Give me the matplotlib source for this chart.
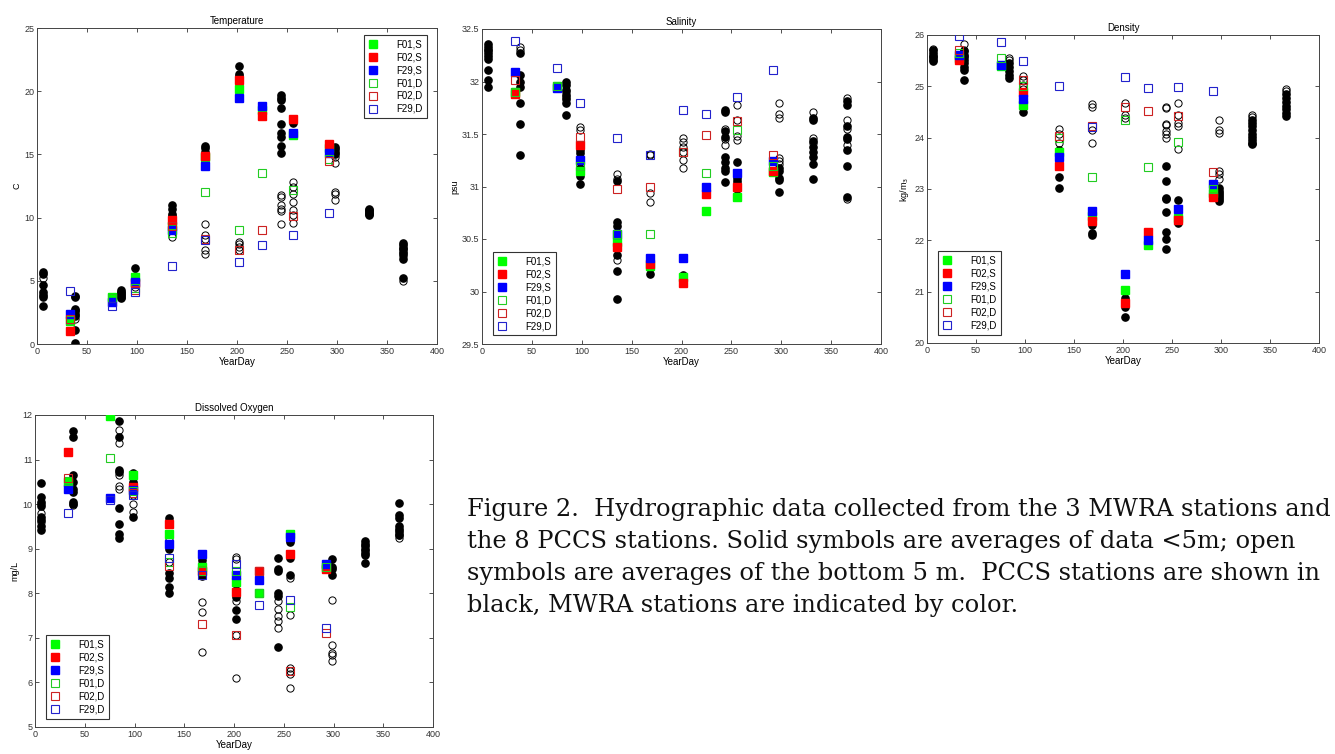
import numpy as np
import matplotlib
matplotlib.use('Agg')
import matplotlib.pyplot as plt

nan = np.nan
days_mwra = [33, 75, 98, 135, 168, 202, 225, 256, 292]
days_pccs = [6, 38, 84, 98, 135, 168, 202, 244, 256, 298, 332, 366]
series_labels = ['F01,S', 'F02,S', 'F29,S', 'F01,D', 'F02,D', 'F29,D']

# ---------------- Temperature ----------------
temp_f01s = [1.8, 3.7, 5.3, 9.3, 14.8, 20.2, 18.5, 16.5, 15.5]
temp_f02s = [1.0, nan, 4.8, 9.8, 14.9, 20.9, 18.0, 17.8, 15.8]
temp_f29s = [2.4, 3.3, 4.9, 9.0, 14.1, 19.5, 18.8, 16.7, 15.1]
temp_f01d = [1.9, 3.6, 4.4, 8.8, 12.0, 9.0, 13.5, 12.2, 14.6]
temp_f02d = [2.0, nan, 4.3, 9.3, 8.3, 7.4, 9.0, 10.1, 14.5]
temp_f29d = [4.2, 3.0, 4.1, 6.2, 8.2, 6.5, 7.8, 8.6, 10.4]
temp_pccs_s = [[5.7, 5.5, 4.7, 4.1, 3.9, 3.7, 3.0],
               [3.8, 3.7, 2.8, 2.6, 2.4, 2.2, 1.1, 0.05],
               [4.3, 4.1, 4.0, 3.9, 3.7, 3.6],
               [6.0, 5.4, 5.1],
               [11.0, 10.7, 10.3, 10.1],
               [15.7, 15.5, 15.2, 14.8, 14.4],
               [22.0, 21.4, 21.2, 20.8],
               [19.7, 19.5, 19.3, 18.7, 17.4, 16.7, 16.4, 15.7, 15.1],
               [17.5, 16.5],
               [15.6, 15.4, 15.2, 15.0],
               [10.7, 10.6, 10.5, 10.4, 10.3, 10.2],
               [8.0, 7.8, 7.6, 7.5, 7.3, 7.1, 6.7, 5.2]]
temp_pccs_d = [[5.2], [2.7, 2.0], [3.9], [4.5], [8.5, 9.3],
               [9.5, 8.6, 8.3, 7.4, 7.1], [8.1, 7.9, 7.7, 7.4],
               [11.8, 11.6, 11.0, 10.7, 10.5, 9.5],
               [12.8, 12.4, 11.9, 11.2, 10.6, 10.2, 9.6],
               [14.8, 14.3, 12.0, 11.9, 11.4], [10.4], [5.0, 7.0]]

# ---------------- Salinity ----------------
sal_f01s = [31.90, 31.96, 31.15, 30.47, 30.24, 30.14, 30.77, 30.90, 31.14]
sal_f02s = [31.88, nan, 31.40, 30.42, 30.26, 30.08, 30.93, 31.00, 31.15]
sal_f29s = [32.09, 31.94, 31.25, 30.55, 30.32, 30.32, 31.00, 31.13, 31.24]
sal_f01d = [31.90, 31.96, 31.20, 30.55, 30.55, 31.33, 31.13, 31.54, 31.20]
sal_f02d = [32.01, nan, 31.47, 30.98, 31.00, 31.33, 31.49, 31.62, 31.30]
sal_f29d = [32.39, 32.13, 31.80, 31.46, 31.30, 31.73, 31.69, 31.85, 32.11]
sal_pccs_s = [[32.36, 32.33, 32.30, 32.27, 32.24, 32.21, 32.11, 32.01, 31.95],
              [32.27, 32.06, 32.00, 31.95, 31.80, 31.60, 31.30],
              [32.00, 31.97, 31.92, 31.87, 31.83, 31.80, 31.68],
              [31.35, 31.32, 31.18, 31.10, 31.02],
              [31.05, 30.66, 30.62, 30.35, 30.20, 29.93],
              [30.22, 30.17],
              [30.16],
              [31.73, 31.71, 31.53, 31.47, 31.28, 31.23, 31.18, 31.15, 31.04],
              [31.23, 31.08, 31.05, 31.02, 31.00, 30.98],
              [31.18, 31.15, 31.08, 31.06, 30.95],
              [31.65, 31.63, 31.43, 31.38, 31.33, 31.28, 31.21, 31.07],
              [31.81, 31.78, 31.58, 31.47, 31.45, 31.35, 31.20, 30.90]]
sal_pccs_d = [[32.30], [32.33, 32.30], [31.90, 31.85], [31.57, 31.54],
              [31.12, 31.07, 30.30], [31.31, 31.30, 30.94, 30.85],
              [31.46, 31.42, 31.38, 31.33, 31.25, 31.18],
              [31.55, 31.45, 31.40],
              [31.78, 31.63, 31.48, 31.44],
              [31.80, 31.69, 31.65, 31.27, 31.24, 31.21],
              [31.71, 31.46, 31.41],
              [31.84, 31.63, 31.55, 31.40, 30.88]]

# ---------------- Density ----------------
den_f01s = [25.55, 25.40, 24.64, 23.73, 22.47, 21.03, 21.90, 22.43, 22.93]
den_f02s = [25.51, nan, 24.88, 23.44, 22.37, 20.78, 22.17, 22.39, 22.85]
den_f29s = [25.61, 25.42, 24.75, 23.63, 22.58, 21.35, 22.01, 22.62, 23.09]
den_f01d = [25.65, 25.55, 25.00, 24.00, 23.24, 24.35, 23.42, 23.92, 23.00]
den_f02d = [25.71, nan, 25.12, 24.04, 24.22, 24.59, 24.51, 24.43, 23.34]
den_f29d = [25.98, 25.87, 25.50, 25.01, 24.20, 25.19, 24.96, 24.99, 24.90]
den_pccs_s = [[25.70, 25.65, 25.60, 25.55, 25.50],
              [25.68, 25.62, 25.57, 25.52, 25.45, 25.38, 25.31, 25.12],
              [25.45, 25.38, 25.30, 25.22, 25.16],
              [24.60, 24.50],
              [23.75, 23.24, 23.02],
              [22.29, 22.15, 22.10],
              [20.88, 20.70, 20.50],
              [23.45, 23.15, 22.82, 22.80, 22.55, 22.16, 22.03, 21.84],
              [22.78, 22.33],
              [23.02, 22.97, 22.93, 22.88, 22.84, 22.80, 22.76],
              [24.35, 24.28, 24.22, 24.15, 24.08, 24.02, 23.95, 23.90, 23.87],
              [24.85, 24.78, 24.70, 24.62, 24.55, 24.48, 24.42]]
den_pccs_d = [[25.73, 25.60, 25.52], [25.82, 25.70], [25.56, 25.52],
              [25.20, 25.12, 25.03, 24.95], [24.17, 24.08, 23.90],
              [24.65, 24.60, 24.15, 23.89], [24.68, 24.45, 24.38],
              [24.60, 24.58, 24.26, 24.24, 24.13, 24.07, 23.99],
              [24.67, 24.45, 24.28, 24.22, 23.78],
              [24.34, 24.15, 24.10, 23.35, 23.30, 23.20],
              [24.45, 24.40], [24.95, 24.90]]

# ---------------- Dissolved oxygen ----------------
do_f01s = [10.50, 11.98, 10.65, 9.34, 8.60, 8.26, 8.01, 9.34, 8.60]
do_f02s = [11.17, nan, 10.39, 9.55, 8.50, 8.03, 8.50, 8.89, 8.54]
do_f29s = [10.33, 10.14, 10.32, 9.10, 8.88, 8.41, 8.29, 9.27, 8.65]
do_f01d = [10.52, 11.03, 10.30, 8.70, 8.50, 8.50, 8.01, 7.70, 8.60]
do_f02d = [10.58, nan, 10.25, 8.62, 7.30, 7.06, 8.50, 6.25, 7.12]
do_f29d = [9.81, 10.10, 10.20, 8.80, 8.40, 8.65, 7.73, 7.86, 7.21]
do_pccs_s = [[10.47, 10.15, 10.05, 9.95, 9.72, 9.65, 9.50, 9.42],
             [11.63, 11.50, 10.65, 10.50, 10.35, 10.28, 10.05, 10.00],
             [11.87, 11.50, 10.76, 10.72, 9.92, 9.56, 9.32, 9.25],
             [10.70, 10.50, 10.45, 9.72],
             [9.68, 9.00, 8.45, 8.35, 8.15, 8.00],
             [8.75, 8.65, 8.38],
             [8.20, 8.00, 7.92, 7.62, 7.42],
             [8.80, 8.55, 8.50, 8.00, 7.95, 6.80],
             [9.20, 9.15, 8.80, 8.42],
             [8.77, 8.60, 8.55, 8.42],
             [9.17, 9.10, 9.05, 8.98, 8.90, 8.85, 8.68],
             [10.02, 9.75, 9.70, 9.50, 9.45, 9.40, 9.30]]
do_pccs_d = [[10.00, 9.80, 9.60], [9.98], [11.67, 11.38, 10.66, 10.40, 10.35],
             [10.20, 10.00, 9.82], [9.20, 8.70], [7.81, 7.58, 6.68],
             [8.82, 8.78, 7.82, 7.06, 6.09],
             [7.82, 7.65, 7.50, 7.37, 7.22],
             [8.34, 7.51, 6.32, 6.25, 6.20, 5.87],
             [7.86, 6.84, 6.67, 6.62, 6.49], [9.00], [9.35, 9.30, 9.25]]

caption_lines = ["Figure 2.  Hydrographic data collected from the 3 MWRA stations and",
                 "the 8 PCCS stations. Solid symbols are averages of data <5m; open",
                 "symbols are averages of the bottom 5 m.  PCCS stations are shown in",
                 "black, MWRA stations are indicated by color."]

fill_colors = ['#00ff00', '#ff0000', '#0000ff']
edge_colors = ['#22cc22', '#cc2222', '#2222cc']

plt.rcParams['font.family'] = ['Liberation Sans', 'DejaVu Sans']
fig = plt.figure(figsize=(13.35, 7.54), dpi=100)

W, H = 1335.0, 754.0
def ax_at(x0, y0, x1, y1):
    return fig.add_axes([x0 / W, 1 - y1 / H, (x1 - x0) / W, (y1 - y0) / H])

panels = [
    dict(box=(37, 28, 437, 344), title='Temperature', ylabel='C', ylim=(0, 25), yt=np.arange(0, 26, 5),
         ytl=['0', '5', '10', '15', '20', '25'],
         mw=[temp_f01s, temp_f02s, temp_f29s, temp_f01d, temp_f02d, temp_f29d],
         ps=temp_pccs_s, pd=temp_pccs_d, leg='ur'),
    dict(box=(482, 29, 881, 344), title='Salinity', ylabel='psu', ylim=(29.5, 32.5),
         yt=np.arange(29.5, 32.51, 0.5), ytl=['29.5', '30', '30.5', '31', '31.5', '32', '32.5'],
         mw=[sal_f01s, sal_f02s, sal_f29s, sal_f01d, sal_f02d, sal_f29d],
         ps=sal_pccs_s, pd=sal_pccs_d, leg='ll'),
    dict(box=(927, 35, 1319, 343), title='Density', ylabel='kg/m$_3$', ylim=(20, 26), yt=np.arange(20, 27, 1),
         ytl=['20', '21', '22', '23', '24', '25', '26'],
         mw=[den_f01s, den_f02s, den_f29s, den_f01d, den_f02d, den_f29d],
         ps=den_pccs_s, pd=den_pccs_d, leg='ll'),
    dict(box=(35, 415, 433, 727), title='Dissolved Oxygen', ylabel='mg/L', ylim=(5, 12), yt=np.arange(5, 13, 1),
         ytl=['5', '6', '7', '8', '9', '10', '11', '12'],
         mw=[do_f01s, do_f02s, do_f29s, do_f01d, do_f02d, do_f29d],
         ps=do_pccs_s, pd=do_pccs_d, leg='ll'),
]

ms = 5.2
for p in panels:
    ax = ax_at(*p['box'])
    for d, vals in zip(days_pccs, p['ps']):
        ax.plot([d] * len(vals), vals, 'o', color='black', ms=ms, mec='black', zorder=2)
    for d, vals in zip(days_pccs, p['pd']):
        ax.plot([d] * len(vals), vals, 'o', mfc='none', mec='black', ms=ms, mew=0.7, zorder=2)
    handles = []
    for i in range(3):
        h, = ax.plot(days_mwra, p['mw'][i], 's', color=fill_colors[i], mec=fill_colors[i], ms=ms, zorder=3,
                     label=series_labels[i])
        handles.append(h)
    for i in range(3):
        h, = ax.plot(days_mwra, p['mw'][3 + i], 's', mfc='none', mec=edge_colors[i], ms=ms, mew=0.8, zorder=3,
                     label=series_labels[3 + i])
        handles.append(h)
    ax.set_xlim(0, 400)
    ax.set_ylim(*p['ylim'])
    ax.set_xticks(np.arange(0, 401, 50))
    ax.set_yticks(p['yt'])
    ax.set_yticklabels(p['ytl'])
    ax.tick_params(direction='in', top=True, right=True, length=3, width=0.6, labelsize=6.5, pad=2, colors='#333333')
    for s in ax.spines.values():
        s.set_linewidth(0.7)
        s.set_color('#444444')
    ax.set_title(p['title'], fontsize=7, pad=3)
    ax.set_xlabel('YearDay', fontsize=7, labelpad=1)
    ax.set_ylabel(p['ylabel'], fontsize=6.5, labelpad=2)
    common = dict(fontsize=7, frameon=True, fancybox=False, edgecolor='black', handlelength=1.0,
                  handletextpad=1.9, labelspacing=0.3, borderpad=0.45, borderaxespad=0.0)
    if p['leg'] == 'ur':
        leg = ax.legend(handles=handles, loc='upper right', bbox_to_anchor=(0.975, 0.978), **common)
    else:
        leg = ax.legend(handles=handles, loc='lower left', bbox_to_anchor=(0.027, 0.027), **common)
    leg.get_frame().set_linewidth(0.8)

for k, line in enumerate(caption_lines):
    fig.text(467 / W, 1 - (516 + 32 * k) / H, line, fontsize=17.4, family=['DejaVu Serif'],
             va='baseline', ha='left', color='#111111')

fig.savefig('out.png', dpi=100, facecolor='white')
